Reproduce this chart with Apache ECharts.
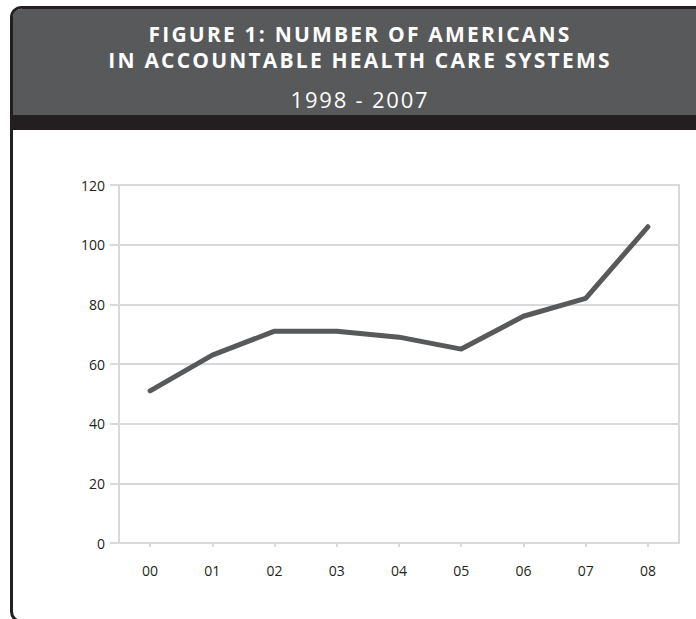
<!DOCTYPE html>
<html>
<head>
<meta charset="utf-8">
<script src="https://cdn.jsdelivr.net/npm/echarts@6/dist/echarts.min.js"></script>
<style>
html,body{margin:0;padding:0;background:#fff;}
#chart{width:696px;height:619px;}
#chart text[fill="#fefefe"]{letter-spacing:2.2px;}
#chart text[fill="#fdfdfd"]{letter-spacing:1.8px;}
</style>
</head>
<body>
<div id="chart"></div>
<script>
const titleLines = ['FIGURE 1: NUMBER OF AMERICANS', 'IN ACCOUNTABLE HEALTH CARE SYSTEMS'];
const subtitle = '1998 - 2007';
const categories = ['00','01','02','03','04','05','06','07','08'];
const values = [51, 63, 71, 71, 69, 65, 76, 82, 106];
const yMin = 0, yMax = 120, yStep = 20;

const chart = echarts.init(document.getElementById('chart'), null, {renderer:'svg'});
chart.setOption({
  animation:false,
  backgroundColor:'#fff',
  graphic:[
    {type:'rect', z:-10, shape:{x:11.5,y:7.5,width:720,height:614,r:10}, style:{fill:'#fff',stroke:'#231f20',lineWidth:3}},
    {type:'rect', z:-9, shape:{x:13,y:9,width:720,height:106,r:[8,0,0,0]}, style:{fill:'#58595b'}},
    {type:'rect', z:-9, shape:{x:13,y:115,width:720,height:15}, style:{fill:'#231f20'}},
    {type:'text', z:5, x:360, y:34, style:{text:titleLines[0], fill:'#fefefe', font:'bold 21px "Open Sans"', align:'center', verticalAlign:'middle'}},
    {type:'text', z:5, x:360, y:60, style:{text:titleLines[1], fill:'#fefefe', font:'bold 21px "Open Sans"', align:'center', verticalAlign:'middle'}},
    {type:'text', z:5, x:360, y:99, style:{text:subtitle, fill:'#fdfdfd', font:'22px "Open Sans"', align:'center', verticalAlign:'middle'}}
  ],
  grid:{left:119, right:17, top:185, bottom:76, show:true, borderColor:'#d9d9d9', borderWidth:2, backgroundColor:'transparent'},
  xAxis:{
    type:'category', data:categories, boundaryGap:true,
    axisLine:{show:true, lineStyle:{color:'#d9d9d9', width:2}},
    axisTick:{show:true, alignWithLabel:true, length:4, inside:false, lineStyle:{color:'#d9d9d9', width:2}},
    axisLabel:{color:'#231f20', fontSize:14, fontFamily:'"Open Sans"', margin:20},
    splitLine:{show:false}
  },
  yAxis:{
    type:'value', min:yMin, max:yMax, interval:yStep,
    axisLine:{show:true, lineStyle:{color:'#d9d9d9', width:2}},
    axisTick:{show:true, length:9, lineStyle:{color:'#d9d9d9', width:2}},
    axisLabel:{color:'#231f20', fontSize:14, fontFamily:'"Open Sans"', margin:14},
    splitLine:{show:true, lineStyle:{color:'#d9d9d9', width:2}}
  },
  series:[{
    type:'line', data:values, symbol:'none',
    lineStyle:{color:'#58595b', width:5, cap:'round', join:'round'}
  }]
});
</script>
</body>
</html>
